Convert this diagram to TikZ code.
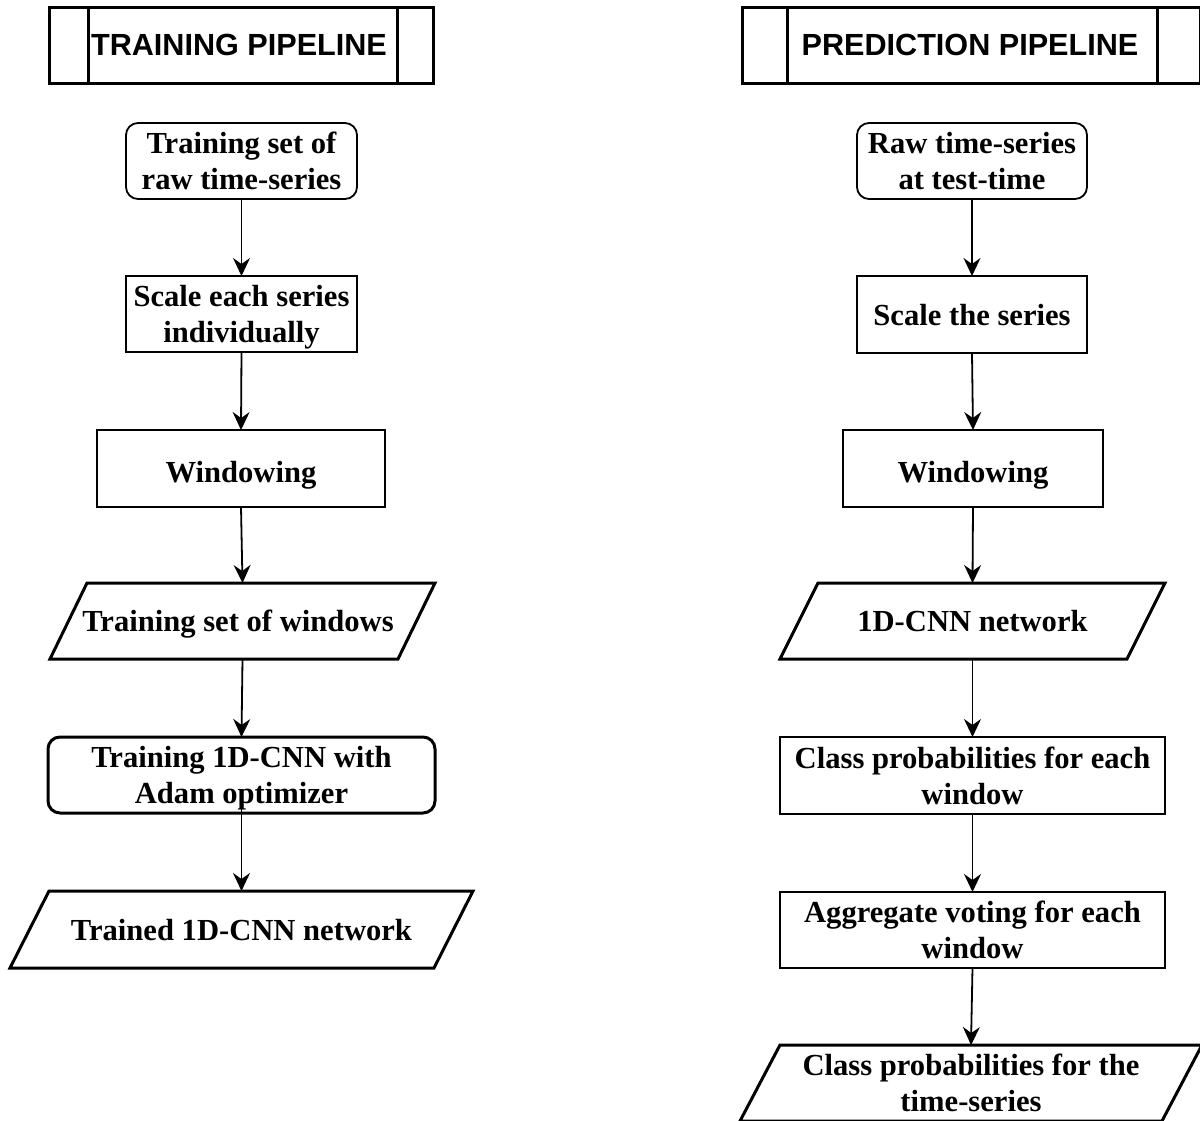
\documentclass[tikz,border=0pt]{standalone}
\usepackage{fontspec}
\setmainfont{Liberation Serif}
\newfontfamily\titlefont{Liberation Sans}
\usetikzlibrary{arrows.meta}
\newcommand\mystrut{\rule[-7pt]{0pt}{35pt}}
\tikzset{
  base/.style={inner sep=0pt, outer sep=0pt, align=center,
    font=\bfseries\fontsize{30.6}{36}\selectfont,
    execute at begin node=\mystrut, execute at end node=\mystrut},
  lowered/.style={execute at begin node=\rule{0pt}{34pt}},
  thinbox/.style={base, draw, line width=1.8pt},
  roundthin/.style={thinbox, rounded corners=12pt},
  roundthick/.style={base, draw, line width=3pt, rounded corners=12pt},
  parabody/.style={base},
  paraline/.style={line width=3pt, line join=miter},
  titlebox/.style={inner sep=0pt, outer sep=0pt, draw, line width=3pt},
  titletext/.style={inner sep=0pt, font=\titlefont\bfseries\fontsize{30.6}{35}\selectfont},
  innerline/.style={line width=3pt},
  flow/.style={line width=1.8pt, -{Stealth[length=18pt,width=17pt,inset=6pt]}}
}
\begin{document}
\begin{tikzpicture}[x=1pt,y=-1pt]
\useasboundingbox (0,0) rectangle (1200,1120);
\fill[white] (0,0) rectangle (1200,1120);

% Titles
\node[titlebox, minimum width=384pt, minimum height=76pt] (TL) at (241,45) {};
\node[titletext] (TLt) at (239,45) {TRAINING PIPELINE};
\draw[innerline] ([xshift=39pt]TL.north west) -- ([xshift=39pt]TL.south west);
\draw[innerline] ([xshift=-36pt]TL.north east) -- ([xshift=-36pt]TL.south east);
\node[titlebox, minimum width=458pt, minimum height=76pt] (TR) at (971,45) {};
\node[titletext] (TRt) at (970,45) {PREDICTION PIPELINE};
\draw[innerline] ([xshift=45pt]TR.north west) -- ([xshift=45pt]TR.south west);
\draw[innerline] ([xshift=-43pt]TR.north east) -- ([xshift=-43pt]TR.south east);

% Training column
\node[roundthin, minimum width=231pt, minimum height=76pt] (L1) at (241.5,161) {\mystrut Training set of\\raw time-series};
\node[thinbox, minimum width=231pt, minimum height=76pt] (L2) at (241.5,314) {\mystrut Scale each series\\individually};
\node[thinbox, lowered, minimum width=288pt, minimum height=77pt] (L3) at (241,468.5) {Windowing};
\node[parabody, minimum width=385pt, minimum height=76pt] (L4) at (242.5,621) {};
\node[parabody] (L4t) at (238,621) {Training set of windows};
\draw[paraline] ([xshift=37pt]L4.north west) -- (L4.north east) -- ([xshift=-37pt]L4.south east) -- (L4.south west) -- cycle;
\node[roundthick, minimum width=387pt, minimum height=76pt] (L5) at (241.5,775) {\mystrut Training 1D-CNN with\\Adam optimizer};
\node[parabody, minimum width=463pt, minimum height=77pt] (L6) at (241.5,929.5) {Trained 1D-CNN network};
\draw[paraline] ([xshift=39pt]L6.north west) -- (L6.north east) -- ([xshift=-39pt]L6.south east) -- (L6.south west) -- cycle;

\draw[flow] (L1.south) -- (L2.north);
\draw[flow] (L2.south) -- (L3.north);
\draw[flow] (L3.south) -- (L4.north);
\draw[flow] (L4.south) -- (L5.north);
\draw[flow] ([yshift=13pt]L5.south) -- (L6.north);

% Prediction column
\node[roundthin, minimum width=230pt, minimum height=76pt] (R1) at (972,161) {\mystrut Raw time-series\\at test-time};
\node[thinbox, minimum width=230pt, minimum height=77pt] (R2) at (972,314.5) {Scale the series};
\node[thinbox, lowered, minimum width=260pt, minimum height=77pt] (R3) at (973,468.5) {Windowing};
\node[parabody, minimum width=385pt, minimum height=76pt] (R4) at (972.5,621) {1D-CNN network};
\draw[paraline] ([xshift=38pt]R4.north west) -- (R4.north east) -- ([xshift=-38pt]R4.south east) -- (R4.south west) -- cycle;
\node[thinbox, minimum width=385pt, minimum height=77pt] (R5) at (972.5,775.5) {\mystrut Class probabilities for each\\window};
\node[thinbox, minimum width=385pt, minimum height=76pt] (R6) at (972.5,930) {\mystrut Aggregate voting for each\\window};
\node[parabody, minimum width=462pt, minimum height=76pt] (R7) at (971,1083) {\mystrut Class probabilities for the\\time-series};
\draw[paraline] ([xshift=40pt]R7.north west) -- (R7.north east) -- ([xshift=-40pt]R7.south east) -- (R7.south west) -- cycle;

\draw[flow] (R1.south) -- (R2.north);
\draw[flow] (R2.south) -- (R3.north);
\draw[flow] (R3.south) -- (R4.north);
\draw[flow] (R4.south) -- (R5.north);
\draw[flow] (R5.south) -- (R6.north);
\draw[flow] (R6.south) -- (R7.north);
\end{tikzpicture}
\end{document}
